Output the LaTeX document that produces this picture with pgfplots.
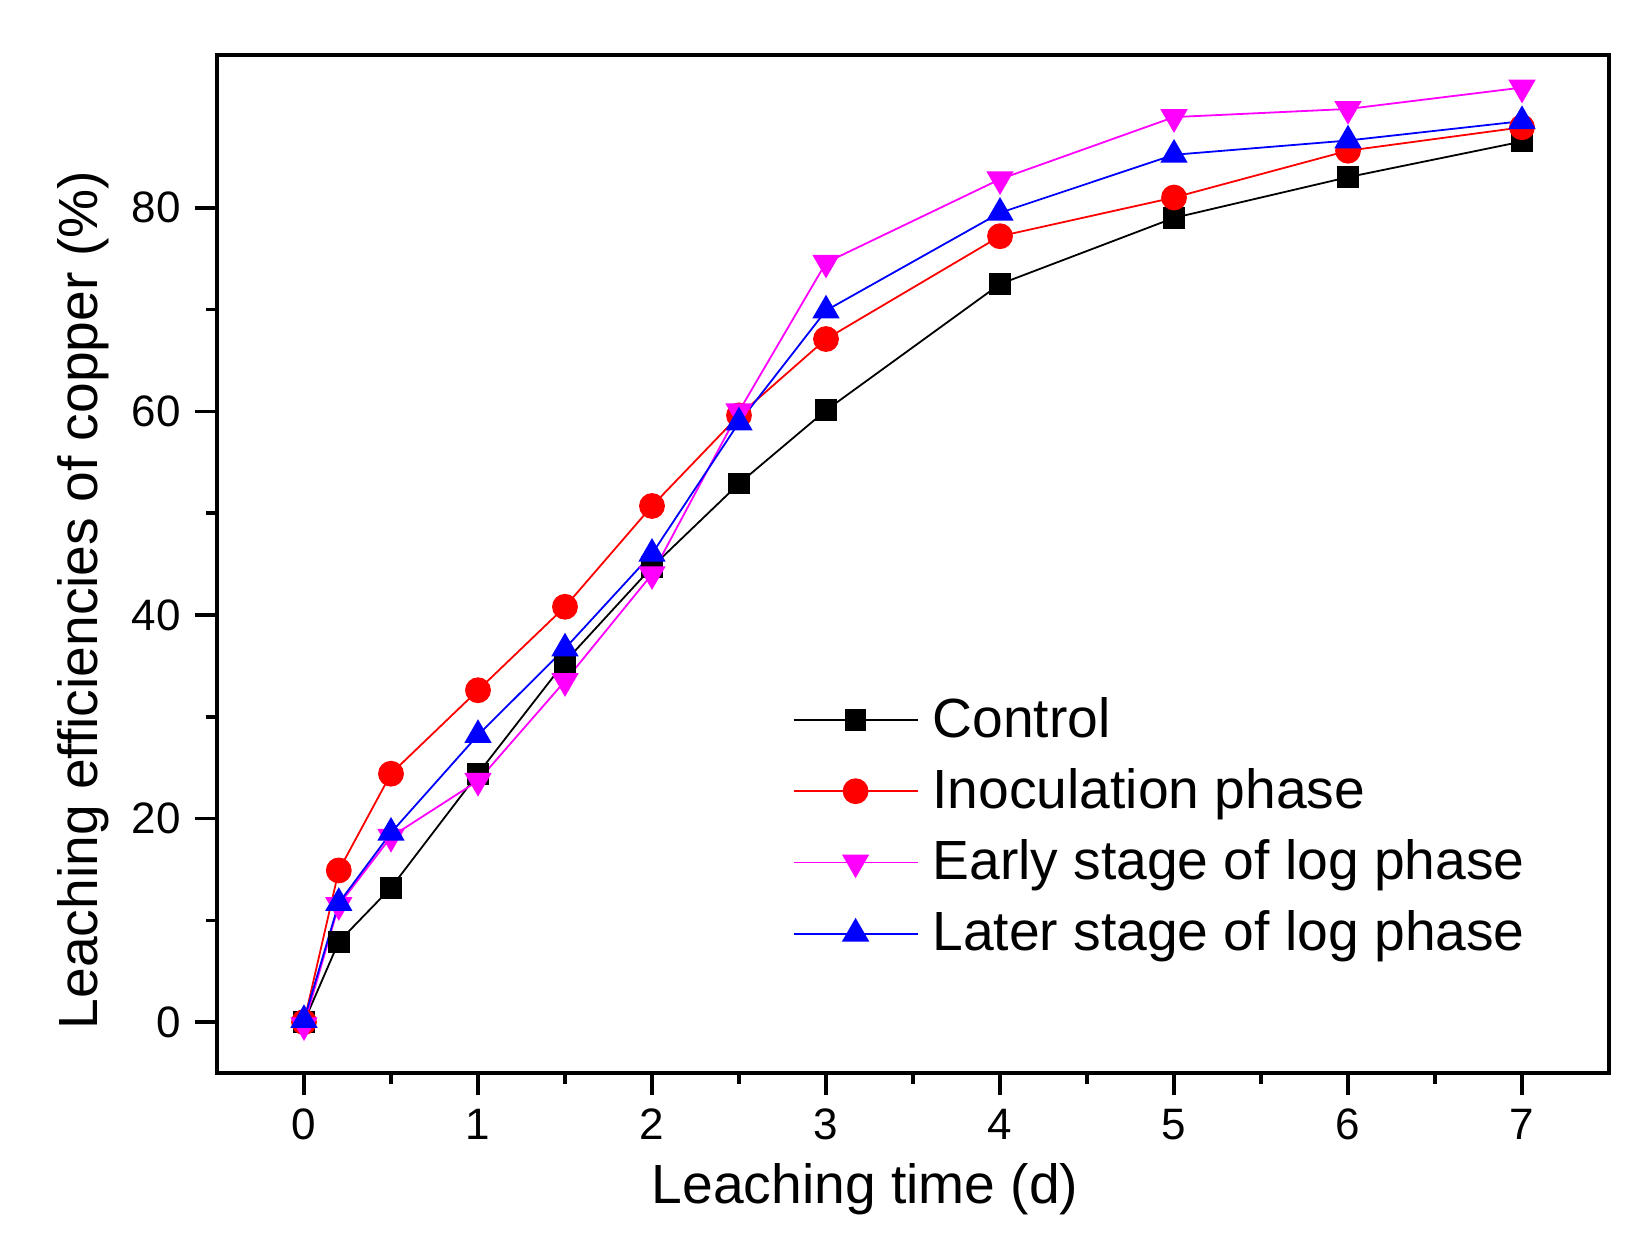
\documentclass[border=0pt]{standalone}
\usepackage{pgfplots}
\pgfplotsset{compat=1.18}
\usepackage{fontspec}
\setmainfont{Liberation Sans}
\definecolor{pmag}{RGB}{255,0,255}
\definecolor{pblue}{RGB}{0,0,255}
\definecolor{pred}{RGB}{255,0,0}
\begin{document}
\begin{tikzpicture}
\begin{axis}[
    scale only axis,
    width=348pt, height=254.5pt,
    xmin=-0.5, xmax=7.5,
    ymin=-5, ymax=95,
    xtick={0,1,2,3,4,5,6,7},
    ytick={0,20,40,60,80},
    minor x tick num=1,
    minor y tick num=1,
    tick pos=left,
    tick align=outside,
    major tick length=5.5pt,
    minor tick length=2.8pt,
    every tick/.style={black, line width=0.9pt},
    axis line style={line width=1pt},
    /pgf/number format/assume math mode=true,
    ticklabel style={font=\fontsize{11}{13}\selectfont},
    label style={font=\fontsize{13.8}{16}\selectfont},
    xlabel={Leaching time (d)},
    ylabel={Leaching efficiencies of copper (\%)},
    xlabel style={yshift=1pt, xshift=-12pt},
    ylabel style={yshift=-1pt, xshift=-9pt},
    legend style={at={(rel axis cs:0.413,0.378)}, anchor=north west,
        draw=none, fill=none, inner sep=0pt,
        font=\fontsize{13.8}{16}\selectfont, row sep=2.3pt},
    legend cell align=left,
    legend image code/.code={\draw[mark repeat=2,mark phase=2]
        plot coordinates {(0pt,0pt)(15.5pt,0pt)(31pt,0pt)};
        \path (32.5pt,0pt);},
    every axis plot/.append style={line width=0.45pt},
]
\addplot[color=black, mark=square*, mark size=2.5pt] coordinates {
(0,0)(0.2,7.9)(0.5,13.2)(1,24.4)(1.5,35.4)(2,44.7)(2.5,52.9)(3,60.1)(4,72.5)(5,79.0)(6,83.0)(7,86.5)
};
\addlegendentry{Control}
\addplot[color=pred, mark=*, mark size=3pt] coordinates {
(0,0)(0.2,14.9)(0.5,24.4)(1,32.6)(1.5,40.8)(2,50.7)(2.5,59.6)(3,67.1)(4,77.2)(5,81.0)(6,85.6)(7,87.9)
};
\addlegendentry{Inoculation phase}
\addplot[color=pmag, mark=triangle*, mark options={rotate=180}, mark size=3.5pt] coordinates {
(0,-0.3)(0.2,11.5)(0.5,18.2)(1,23.7)(1.5,33.5)(2,44.0)(2.5,60.0)(3,74.6)(4,82.8)(5,88.9)(6,89.7)(7,91.8)
};
\addlegendentry{Early stage of log phase}
\addplot[color=pblue, mark=triangle*, mark size=3.5pt] coordinates {
(0,0.2)(0.2,11.7)(0.5,18.6)(1,28.2)(1.5,36.7)(2,46.0)(2.5,58.9)(3,69.9)(4,79.5)(5,85.2)(6,86.6)(7,88.5)
};
\addlegendentry{Later stage of log phase}
\end{axis}
\path ([shift={(-54.25pt,-43.25pt)}]current axis.south west)
  rectangle ([shift={(9.25pt,13.75pt)}]current axis.north east);
\end{tikzpicture}
\end{document}
